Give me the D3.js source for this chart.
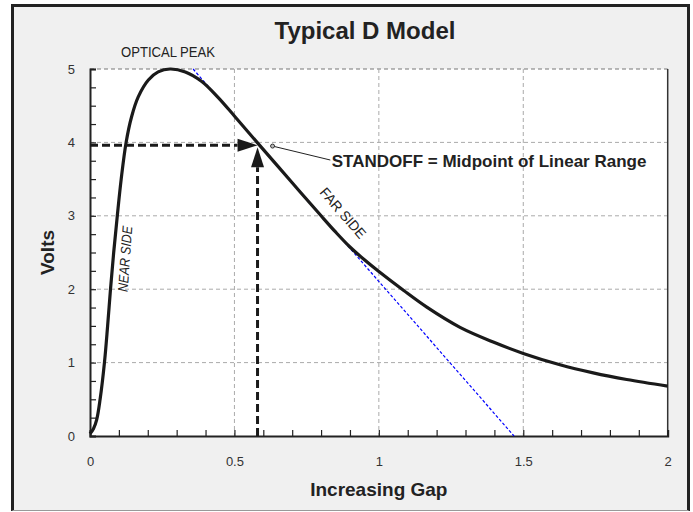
<!DOCTYPE html>
<html>
<head>
<meta charset="utf-8">
<script src="https://cdn.jsdelivr.net/npm/d3@7"></script>
<style>
  body { margin: 0; background: #fff; }
  text { font-family: "Liberation Sans", Arial, sans-serif; }
</style>
</head>
<body>
<svg width="693" height="512"></svg>
<script>
// response curve
const gap = [0, 0.012, 0.023, 0.035, 0.05, 0.061, 0.071, 0.082, 0.0945, 0.108, 0.125,
             0.144, 0.167, 0.202, 0.236, 0.277, 0.33, 0.387, 0.444, 0.502, 0.583, 0.7, 0.8,
             0.85, 0.9, 0.95, 1.0, 1.085, 1.166, 1.281, 1.396, 1.5, 1.627, 1.742, 1.858, 2.0];
const volts = [0.03, 0.1, 0.22, 0.5, 1.0, 1.5, 2.0, 2.5, 3.0, 3.5, 4.0,
               4.35, 4.62, 4.85, 4.96, 5.0, 4.96, 4.83, 4.61, 4.35, 3.98, 3.45, 3.0,
               2.78, 2.575, 2.40, 2.24, 1.985, 1.755, 1.48, 1.28, 1.125, 0.97, 0.86, 0.77, 0.68];

// linear range (tangent)
const tangentGap = [0.357, 1.468];
const tangentVolts = [5, 0];

// standoff point
const standoffGap = 0.58;
const standoffVolts = 3.96;

const xTicks = [0, 0.5, 1, 1.5, 2];
const yTicks = [0, 1, 2, 3, 4, 5];

const svg = d3.select('svg');

// frame
svg.append('rect')
   .attr('x', 12.5).attr('y', 5.5)
   .attr('width', 676).attr('height', 505)
   .attr('fill', '#f0f0f0').attr('stroke', 'none');
svg.append('path')
   .attr('d', 'M12.5,511 L12.5,5.5 L688.5,5.5 L688.5,511')
   .attr('fill', 'none').attr('stroke', '#222').attr('stroke-width', 3);
svg.append('line')
   .attr('x1', 12.5).attr('x2', 688.5).attr('y1', 510.5).attr('y2', 510.5)
   .attr('stroke', '#999').attr('stroke-width', 1);

const pLeft = 90, pRight = 667.7, pTop = 69, pBottom = 436;

const x = d3.scaleLinear().domain([0, 2]).range([pLeft, pRight]);
const y = d3.scaleLinear().domain([0, 5]).range([pBottom, pTop]);

// plot area
svg.append('rect')
   .attr('x', pLeft).attr('y', pTop)
   .attr('width', pRight - pLeft).attr('height', pBottom - pTop)
   .attr('fill', '#fff');

// grid
svg.append('g').selectAll('line')
   .data(yTicks.filter(d => d > 0))
   .join('line')
   .attr('x1', pLeft).attr('x2', pRight)
   .attr('y1', d => y(d)).attr('y2', d => y(d))
   .attr('stroke', d => d === 5 ? '#777' : '#aaa')
   .attr('stroke-width', 1)
   .attr('stroke-dasharray', '4,3');

svg.append('g').selectAll('line')
   .data(xTicks.filter(d => d > 0 && d < 2))
   .join('line')
   .attr('x1', d => x(d)).attr('x2', d => x(d))
   .attr('y1', pTop).attr('y2', pBottom)
   .attr('stroke', '#aaa')
   .attr('stroke-width', 1)
   .attr('stroke-dasharray', '4,3');

// right edge of plot
svg.append('line')
   .attr('x1', pRight).attr('x2', pRight).attr('y1', pTop).attr('y2', pBottom)
   .attr('stroke', '#333').attr('stroke-width', 1.5);

// minor ticks (inside)
svg.append('g')
   .attr('transform', `translate(0,${pBottom})`)
   .call(d3.axisBottom(x).tickValues(d3.range(0, 2.001, 0.1)).tickSize(-6).tickFormat(''))
   .call(g => g.select('.domain').attr('stroke', '#222').attr('stroke-width', 2));

svg.append('g')
   .attr('transform', `translate(${pLeft},0)`)
   .call(d3.axisLeft(y).tickValues(d3.range(0, 5.001, 0.25)).tickSize(-6).tickFormat(''))
   .call(g => g.select('.domain').attr('stroke', '#222').attr('stroke-width', 2));

svg.selectAll('.tick line').attr('stroke', '#222').attr('stroke-width', 1.2);

// tick labels
svg.append('g')
   .attr('transform', `translate(0,${pBottom})`)
   .call(d3.axisBottom(x).tickValues(xTicks).tickSize(0).tickPadding(21).tickFormat(d => d))
   .call(g => g.select('.domain').remove())
   .call(g => g.selectAll('text').attr('font-size', 13).attr('fill', '#333')
                .attr('font-family', '"Liberation Sans", Arial, sans-serif'));

svg.append('g')
   .attr('transform', `translate(${pLeft},0)`)
   .call(d3.axisLeft(y).tickValues(yTicks).tickSize(0).tickPadding(15).tickFormat(d => d))
   .call(g => g.select('.domain').remove())
   .call(g => g.selectAll('text').attr('font-size', 13).attr('fill', '#333')
                .attr('font-family', '"Liberation Sans", Arial, sans-serif'));

// tangent line
const line = d3.line().x(d => x(d[0])).y(d => y(d[1]));
svg.append('path')
   .attr('d', line(d3.zip(tangentGap, tangentVolts)))
   .attr('fill', 'none')
   .attr('stroke', '#0000ff')
   .attr('stroke-width', 1.2)
   .attr('stroke-dasharray', '3,2');

// response curve
const curve = d3.line().x(d => x(d[0])).y(d => y(d[1])).curve(d3.curveCatmullRom.alpha(0.5));
svg.append('path')
   .attr('d', curve(d3.zip(gap, volts)))
   .attr('fill', 'none')
   .attr('stroke', '#1a1a1a')
   .attr('stroke-width', 3.2)
   .attr('stroke-linejoin', 'round');

// dashed arrows to standoff point
const sx = x(standoffGap), sy = y(standoffVolts);
const head = 20, half = 6.5;

svg.append('line')
   .attr('x1', x(0)).attr('x2', sx - head)
   .attr('y1', sy).attr('y2', sy)
   .attr('stroke', '#1a1a1a').attr('stroke-width', 3).attr('stroke-dasharray', '8,4');
svg.append('path')
   .attr('d', `M${sx},${sy} L${sx - head},${sy - half} L${sx - head},${sy + half} Z`)
   .attr('fill', '#1a1a1a');

svg.append('line')
   .attr('x1', sx).attr('x2', sx)
   .attr('y1', y(0)).attr('y2', sy + 2 + head)
   .attr('stroke', '#1a1a1a').attr('stroke-width', 3).attr('stroke-dasharray', '8,4');
svg.append('path')
   .attr('d', `M${sx},${sy + 2} L${sx - half},${sy + 2 + head} L${sx + half},${sy + 2 + head} Z`)
   .attr('fill', '#1a1a1a');

// callout
const dotX = x(0.632), dotY = y(3.95);
svg.append('line')
   .attr('x1', dotX).attr('y1', dotY)
   .attr('x2', x(0.832)).attr('y2', y(3.76))
   .attr('stroke', '#222').attr('stroke-width', 1);
svg.append('circle')
   .attr('cx', dotX).attr('cy', dotY).attr('r', 2)
   .attr('fill', '#bbb').attr('stroke', '#333').attr('stroke-width', 1);

svg.append('text')
   .attr('x', x(0.837)).attr('y', y(3.66))
   .attr('font-size', 17).attr('font-weight', 'bold').attr('fill', '#222')
   .text('STANDOFF = Midpoint of Linear Range');

// titles
svg.append('text')
   .attr('x', 365).attr('y', 39.3)
   .attr('text-anchor', 'middle')
   .attr('font-size', 24).attr('font-weight', 'bold').attr('fill', '#222')
   .text('Typical D Model');

svg.append('text')
   .attr('x', (pLeft + pRight) / 2).attr('y', 496)
   .attr('text-anchor', 'middle')
   .attr('font-size', 19).attr('font-weight', 'bold').attr('fill', '#222')
   .text('Increasing Gap');

svg.append('text')
   .attr('transform', `translate(53.5,${(pTop + pBottom) / 2}) rotate(-90)`)
   .attr('text-anchor', 'middle')
   .attr('font-size', 19).attr('font-weight', 'bold').attr('fill', '#222')
   .text('Volts');

svg.append('text')
   .attr('x', 168).attr('y', 57.3)
   .attr('text-anchor', 'middle')
   .attr('font-size', 14).attr('fill', '#222')
   .attr('textLength', 94).attr('lengthAdjust', 'spacingAndGlyphs')
   .text('OPTICAL PEAK');

svg.append('text')
   .attr('transform', 'translate(125,259) rotate(-86)')
   .attr('text-anchor', 'middle').attr('dy', '0.35em')
   .attr('font-size', 14).attr('font-style', 'italic').attr('fill', '#222')
   .attr('textLength', 66).attr('lengthAdjust', 'spacingAndGlyphs')
   .text('NEAR SIDE');

svg.append('text')
   .attr('transform', 'translate(343,213) rotate(49)')
   .attr('text-anchor', 'middle').attr('dy', '0.35em')
   .attr('font-size', 14).attr('fill', '#222')
   .attr('textLength', 62).attr('lengthAdjust', 'spacingAndGlyphs')
   .text('FAR SIDE');
</script>
</body>
</html>
